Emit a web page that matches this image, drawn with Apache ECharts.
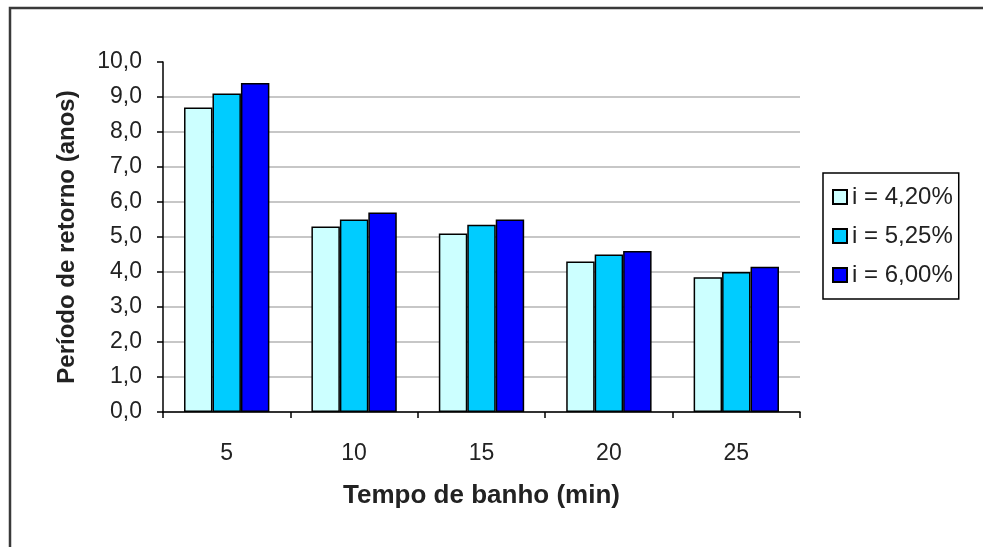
<!DOCTYPE html>
<html>
<head>
<meta charset="utf-8">
<title>Período de retorno</title>
<script src="https://cdn.jsdelivr.net/npm/echarts@6/dist/echarts.min.js"></script>
<style>
  html, body { margin: 0; padding: 0; background: #ffffff; }
  #chart { width: 983px; height: 547px; }
</style>
</head>
<body>
<div id="chart"></div>
<script>
// Bath time categories (minutes)
const categories = ['5', '10', '15', '20', '25'];

// Payback period (years) per interest rate
const seriesNames = ['i = 4,20%', 'i = 5,25%', 'i = 6,00%'];
const rate420 = [8.7, 5.3, 5.1, 4.3, 3.85];
const rate525 = [9.1, 5.5, 5.35, 4.5, 4.0];
const rate600 = [9.4, 5.7, 5.5, 4.6, 4.15];

// Y-axis scale
const yMin = 0;
const yMax = 10;
const yStep = 1;

const colors = ['#CCFFFF', '#00CCFF', '#0000FF'];
const font = 'Arial, "Liberation Sans", sans-serif';

const chart = echarts.init(document.getElementById('chart'), null, { renderer: 'canvas' });

function barSeries(name, data, color) {
  return {
    name: name,
    type: 'bar',
    data: data,
    barGap: '0%',
    barCategoryGap: '33%',
    itemStyle: { color: color, borderColor: '#000000', borderWidth: 1.5 }
  };
}

chart.setOption({
  backgroundColor: '#ffffff',
  animation: false,
  graphic: [{
    type: 'rect',
    shape: { x: 10, y: 8, width: 1000, height: 600 },
    style: { fill: 'transparent', stroke: '#3a3a3a', lineWidth: 2.5 },
    silent: true
  }],
  grid: { left: 163, right: 183, top: 62, bottom: 135 },
  legend: {
    orient: 'vertical',
    left: 823,
    top: 173,
    padding: [12, 6, 12, 9],
    itemGap: 15,
    itemWidth: 14,
    itemHeight: 14,
    icon: 'rect',
    borderColor: '#000000',
    borderWidth: 1.5,
    textStyle: { fontFamily: font, fontSize: 24, color: '#222222', padding: [0, 0, 0, 0] },
    data: seriesNames
  },
  xAxis: {
    type: 'category',
    data: categories,
    name: 'Tempo de banho (min)',
    nameLocation: 'middle',
    nameGap: 71,
    nameTextStyle: { fontFamily: font, fontSize: 26, fontWeight: 'bold', color: '#222222' },
    axisLine: { lineStyle: { color: '#000000', width: 1.5 } },
    axisTick: { show: true, length: 6, inside: false, lineStyle: { color: '#000000', width: 1.5 } },
    axisLabel: { fontFamily: font, fontSize: 23, color: '#222222', margin: 30 }
  },
  yAxis: {
    type: 'value',
    min: yMin,
    max: yMax,
    interval: yStep,
    name: 'Período de retorno (anos)',
    nameLocation: 'middle',
    nameGap: 84,
    nameRotate: 90,
    nameTextStyle: { fontFamily: font, fontSize: 24, fontWeight: 'bold', color: '#222222' },
    axisLine: { show: true, lineStyle: { color: '#000000', width: 1.5 } },
    axisTick: { show: true, length: 6, inside: false, lineStyle: { color: '#000000', width: 1.5 } },
    axisLabel: {
      fontFamily: font, fontSize: 23, color: '#222222', margin: 21,
      formatter: v => v.toFixed(1).replace('.', ',')
    },
    splitLine: { show: true, showMaxLine: false, lineStyle: { color: '#b4b4b4', width: 1.5 } }
  },
  series: [
    barSeries(seriesNames[0], rate420, colors[0]),
    barSeries(seriesNames[1], rate525, colors[1]),
    barSeries(seriesNames[2], rate600, colors[2])
  ]
});
</script>
</body>
</html>
